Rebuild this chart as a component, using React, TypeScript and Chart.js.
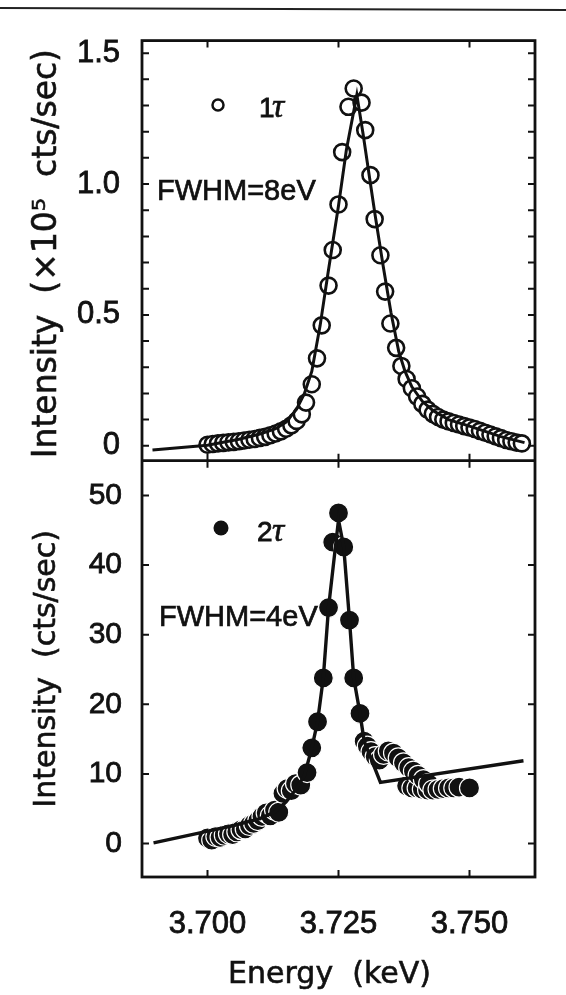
import React, { useEffect, useRef } from 'react';
import { Chart, registerables } from 'chart.js';

Chart.register(...registerables);

// ---------- tick values ----------
const xTickValues = [3.700, 3.725, 3.750];
const topYTickValues = [0, 0.5, 1.0, 1.5];
const topYMinorValues = [0, 0.1, 0.2, 0.3, 0.4, 0.5, 0.6, 0.7, 0.8, 0.9, 1.0, 1.1, 1.2, 1.3, 1.4, 1.5];
const botYTickValues = [0, 10, 20, 30, 40, 50];

// ---------- axis titles ----------
const xTitle = 'Energy  (keV)';
const topYTitle = 'Intensity  (×10⁵  cts/sec)';
const botYTitle = 'Intensity  (cts/sec)';

// ---------- 1τ (top panel) measured points ----------
const tau1X = [
  3.7000, 3.7010, 3.7020, 3.7030, 3.7040, 3.7050, 3.7060, 3.7070, 3.7080, 3.7090,
  3.7100, 3.7110, 3.7120, 3.7130, 3.7140, 3.7150, 3.7160, 3.7170, 3.7180, 3.7188,
  3.7199, 3.7209, 3.7218, 3.7231, 3.7239, 3.7250, 3.7257, 3.7269, 3.7279, 3.7294,
  3.7301, 3.7311, 3.7319, 3.7330, 3.7339, 3.7349, 3.7360, 3.7370, 3.7380, 3.7390,
  3.7400, 3.7410, 3.7420, 3.7430, 3.7440, 3.7450, 3.7460, 3.7470, 3.7480, 3.7490,
  3.7500, 3.7510, 3.7520, 3.7530, 3.7540, 3.7550, 3.7560, 3.7570, 3.7580, 3.7590,
  3.7600,
];
const tau1Y = [
  0.004, 0.007, 0.009, 0.011, 0.013, 0.015, 0.017, 0.020, 0.023, 0.026,
  0.030, 0.034, 0.040, 0.047, 0.055, 0.065, 0.078, 0.095, 0.120, 0.165,
  0.235, 0.334, 0.460, 0.612, 0.748, 0.922, 1.122, 1.295, 1.365, 1.311,
  1.206, 1.034, 0.866, 0.728, 0.589, 0.467, 0.374, 0.305, 0.255, 0.220,
  0.188, 0.160, 0.138, 0.122, 0.110, 0.100, 0.093, 0.087, 0.081, 0.075,
  0.070, 0.064, 0.057, 0.050, 0.043, 0.036, 0.029, 0.022, 0.017, 0.012,
  0.009,
];

// ---------- 1τ fit line ----------
const fit1X = [
  3.6895, 3.7000, 3.7060, 3.7100, 3.7130, 3.7150, 3.7170, 3.7185, 3.7199, 3.7215,
  3.7230, 3.7250, 3.7265, 3.7285, 3.7297, 3.7309, 3.7320, 3.7335, 3.7350, 3.7365,
  3.7377, 3.7390, 3.7410, 3.7430, 3.7460, 3.7500, 3.7530, 3.7560, 3.7605,
];
const fit1Y = [
  -0.016, 0.002, 0.025, 0.045, 0.065, 0.090, 0.140, 0.200, 0.284, 0.460,
  0.660, 0.917, 1.130, 1.340, 1.190, 1.028, 0.880, 0.690, 0.510, 0.360,
  0.284, 0.225, 0.170, 0.135, 0.100, 0.075, 0.055, 0.035, 0.012,
];

// ---------- 2τ (bottom panel) measured points ----------
const tau2X = [
  3.7000, 3.7008, 3.7016, 3.7024, 3.7032, 3.7040, 3.7048, 3.7056, 3.7064, 3.7072,
  3.7080, 3.7088, 3.7096, 3.7104, 3.7112, 3.7120, 3.7128, 3.7136, 3.7144, 3.7152,
  3.7160, 3.7168, 3.7178, 3.7190, 3.7199, 3.7210, 3.7221, 3.7231, 3.7239, 3.7250,
  3.7260, 3.7271, 3.7279, 3.7291, 3.7299, 3.7305, 3.7312, 3.7320, 3.7328, 3.7336,
  3.7345, 3.7355, 3.7364, 3.7374, 3.7380, 3.7384, 3.7390, 3.7393, 3.7400, 3.7402,
  3.7410, 3.7412, 3.7420, 3.7422, 3.7430, 3.7440, 3.7450, 3.7460, 3.7470, 3.7480,
  3.7500,
];
const tau2Y = [
  0.8, 0.5, 1.0, 0.9, 1.2, 1.4, 1.3, 1.7, 2.0, 2.1,
  2.6, 2.9, 3.3, 3.9, 4.4, 4.0, 4.8, 4.5, 7.2, 7.9,
  7.6, 8.6, 8.4, 10.2, 13.75, 17.5, 23.8, 33.9, 43.3, 47.5,
  42.6, 32.1, 23.8, 18.7, 14.7, 14.0, 13.2, 12.5, 12.0, 12.8,
  13.3, 13.0, 12.3, 11.6, 8.3, 10.9, 8.0, 10.4, 8.0, 9.8,
  7.8, 9.2, 7.7, 8.6, 7.7, 7.8, 7.9, 8.0, 8.0, 8.1,
  8.0,
];

// ---------- 2τ fit line ----------
const fit2X = [
  3.6897, 3.6990, 3.7050, 3.7100, 3.7130, 3.7150, 3.7170, 3.7185, 3.7199, 3.7210,
  3.7221, 3.7231, 3.7250, 3.7260, 3.7271, 3.7279, 3.7291, 3.7299, 3.7330, 3.7603,
];
const fit2Y = [
  0.1, 1.6, 2.6, 3.6, 4.6, 6.0, 7.9, 9.8, 13.7, 17.5,
  23.8, 33.9, 46.5, 42.6, 32.1, 23.8, 18.7, 14.7, 8.8, 11.9,
];

const toXY = (xs: number[], ys: number[]) => xs.map((x, i) => ({ x, y: ys[i] }));

const INK = '#111';
const TICK_FONT = "'Liberation Sans', Arial, sans-serif";
const TITLE_FONT = "'DejaVu Sans', sans-serif";

const framePlugin = {
  id: 'frame',
  afterDatasetsDraw(chart: any) {
    const { ctx, chartArea } = chart;
    const xs = chart.scales.x;
    const yTop = chart.scales.yTop;
    const yBot = chart.scales.yBot;
    const L = 7;
    ctx.save();
    ctx.strokeStyle = INK;
    ctx.lineWidth = 2.8;
    ctx.strokeRect(chartArea.left, chartArea.top, chartArea.right - chartArea.left, chartArea.bottom - chartArea.top);
    ctx.beginPath();
    ctx.moveTo(chartArea.left, yTop.bottom);
    ctx.lineTo(chartArea.right, yTop.bottom);
    ctx.stroke();
    ctx.lineWidth = 2;
    ctx.beginPath();
    [yTop, yBot].forEach((ys: any) => {
      xTickValues.forEach((v) => {
        const px = xs.getPixelForValue(v);
        ctx.moveTo(px, ys.top);
        ctx.lineTo(px, ys.top + L);
        ctx.moveTo(px, ys.bottom);
        ctx.lineTo(px, ys.bottom - L);
      });
    });
    topYMinorValues.forEach((v) => {
      const py = yTop.getPixelForValue(v);
      ctx.moveTo(chartArea.left, py);
      ctx.lineTo(chartArea.left + L, py);
      ctx.moveTo(chartArea.right, py);
      ctx.lineTo(chartArea.right - L, py);
    });
    botYTickValues.forEach((v) => {
      const py = yBot.getPixelForValue(v);
      ctx.moveTo(chartArea.left, py);
      ctx.lineTo(chartArea.left + L, py);
      ctx.moveTo(chartArea.right, py);
      ctx.lineTo(chartArea.right - L, py);
    });
    ctx.stroke();
    ctx.restore();
  },
  afterDraw(chart: any) {
    const { ctx } = chart;
    const xs = chart.scales.x;
    const yTop = chart.scales.yTop;
    const yBot = chart.scales.yBot;
    ctx.save();
    ctx.fillStyle = INK;
    ctx.strokeStyle = INK;
    ctx.textBaseline = 'alphabetic';
    ctx.textAlign = 'left';
    const label = (t: string, x: number, y: number, font: string, stroke: number) => {
      ctx.font = font;
      ctx.fillText(t, x, y);
      if (stroke > 0) {
        ctx.lineWidth = stroke;
        ctx.strokeText(t, x, y);
      }
    };
    // top panel key
    ctx.lineWidth = 2.5;
    ctx.beginPath();
    ctx.arc(218, 105, 5.5, 0, Math.PI * 2);
    ctx.stroke();
    label('1', 259, 117, "28px 'Liberation Sans', Arial, sans-serif", 0.8);
    label('τ', 272, 117, "italic 34px 'Liberation Serif', serif", 0.6);
    label('FWHM=8eV', 157, 200, "29px 'Liberation Sans', Arial, sans-serif", 0.7);
    // bottom panel key
    ctx.beginPath();
    ctx.arc(221, 528, 7.5, 0, Math.PI * 2);
    ctx.fill();
    label('2', 257, 541, "28px 'Liberation Sans', Arial, sans-serif", 0.8);
    label('τ', 272, 541, "italic 34px 'Liberation Serif', serif", 0.6);
    label('FWHM=4eV', 159, 626, "29px 'Liberation Sans', Arial, sans-serif", 0.7);

    // axis titles
    ctx.textAlign = 'center';
    ctx.textBaseline = 'middle';
    ctx.lineWidth = 0.6;
    // x title (slightly left of the axis centre, as in the original)
    ctx.font = `30px ${TITLE_FONT}`;
    const xc = (xs.left + xs.right) / 2 - 9;
    ctx.fillText(xTitle, xc, 975);
    ctx.strokeText(xTitle, xc, 975);
    // y titles
    const drawV = (text: string, cy: number, size: number) => {
      ctx.save();
      ctx.translate(47, cy);
      ctx.rotate(-Math.PI / 2);
      ctx.font = `${size}px ${TITLE_FONT}`;
      ctx.fillText(text, 0, 0);
      ctx.strokeText(text, 0, 0);
      ctx.restore();
    };
    drawV(topYTitle, (yTop.top + yTop.bottom) / 2 + 3, 33);
    drawV(botYTitle, (yBot.top + yBot.bottom) / 2, 30);
    ctx.restore();
  },
};

export default function App() {
  const canvasRef = useRef<HTMLCanvasElement | null>(null);

  useEffect(() => {
    if (!canvasRef.current) return;
    const chart = new Chart(canvasRef.current, {
      type: 'scatter',
      data: {
        datasets: [
          {
            label: 'fit 1τ',
            data: toXY(fit1X, fit1Y),
            xAxisID: 'x',
            yAxisID: 'yTop',
            showLine: true,
            borderColor: INK,
            borderWidth: 3,
            pointRadius: 0,
            tension: 0,
            fill: false,
            order: 0,
          },
          {
            label: 'fit 2τ',
            data: toXY(fit2X, fit2Y),
            xAxisID: 'x',
            yAxisID: 'yBot',
            showLine: true,
            borderColor: INK,
            borderWidth: 3.4,
            pointRadius: 0,
            tension: 0,
            fill: false,
            order: 0,
          },
          {
            label: '1τ',
            data: toXY(tau1X, tau1Y),
            xAxisID: 'x',
            yAxisID: 'yTop',
            showLine: false,
            pointRadius: 8,
            pointBorderWidth: 2.6,
            pointBackgroundColor: '#fff',
            pointBorderColor: INK,
            order: 1,
          },
          {
            label: '2τ',
            data: toXY(tau2X, tau2Y),
            xAxisID: 'x',
            yAxisID: 'yBot',
            showLine: false,
            pointRadius: 10,
            pointBorderWidth: 1.2,
            pointBackgroundColor: INK,
            pointBorderColor: '#fff',
            order: 1,
          },
        ],
      },
      options: {
        animation: false,
        responsive: false,
        events: [],
        layout: { padding: { top: 32, right: 31, bottom: 0, left: 0 } },
        plugins: { legend: { display: false }, tooltip: { enabled: false } },
        scales: {
          x: {
            type: 'linear',
            position: 'bottom',
            min: 3.6875,
            max: 3.7625,
            afterBuildTicks: (s: any) => {
              s.ticks = xTickValues.map((v) => ({ value: v }));
            },
            afterFit: (s: any) => {
              s.height = 118;
            },
            grid: { display: false, drawTicks: false },
            border: { display: false },
            ticks: {
              autoSkip: false,
              maxRotation: 0,
              padding: 29,
              color: INK,
              textStrokeColor: INK,
              textStrokeWidth: 0.8,
              font: { family: TICK_FONT, size: 31 },
              callback: (v: any) => Number(v).toFixed(3),
            },
            title: { display: false },
          },
          yBot: {
            type: 'linear',
            axis: 'y',
            position: 'left',
            stack: 'panels',
            stackWeight: 420.6,
            min: -4.8,
            max: 55,
            afterBuildTicks: (s: any) => {
              s.ticks = botYTickValues.map((v) => ({ value: v }));
            },
            afterFit: (s: any) => {
              s.width = 142;
            },
            grid: { display: false, drawTicks: false },
            border: { display: false },
            ticks: {
              padding: 20,
              color: INK,
              textStrokeColor: INK,
              textStrokeWidth: 0.8,
              font: { family: TICK_FONT, size: 30 },
              callback: (v: any) => String(v),
            },
            title: { display: false },
          },
          yTop: {
            type: 'linear',
            axis: 'y',
            position: 'left',
            stack: 'panels',
            stackWeight: 424.4,
            min: -0.057,
            max: 1.548,
            afterBuildTicks: (s: any) => {
              s.ticks = topYTickValues.map((v) => ({ value: v }));
            },
            afterFit: (s: any) => {
              s.width = 142;
            },
            grid: { display: false, drawTicks: false },
            border: { display: false },
            ticks: {
              padding: 22,
              color: INK,
              textStrokeColor: INK,
              textStrokeWidth: 0.8,
              font: { family: TICK_FONT, size: 31 },
              callback: (v: any) => (Number(v) === 0 ? '0' : Number(v).toFixed(1)),
            },
            title: { display: false },
          },
        },
      },
      plugins: [framePlugin],
    } as any);
    return () => chart.destroy();
  }, []);

  return (
    <div style={{ position: 'absolute', left: 0, top: 0, width: 566, height: 995, background: '#fff' }}>
      <div
        style={{
          position: 'absolute',
          left: 0,
          top: 8,
          width: 566,
          height: 2,
          background: '#222',
          transform: 'rotate(0.2deg)',
        }}
      />
      <canvas ref={canvasRef} width={566} height={995} style={{ display: 'block', width: 566, height: 995 }} />
    </div>
  );
}
